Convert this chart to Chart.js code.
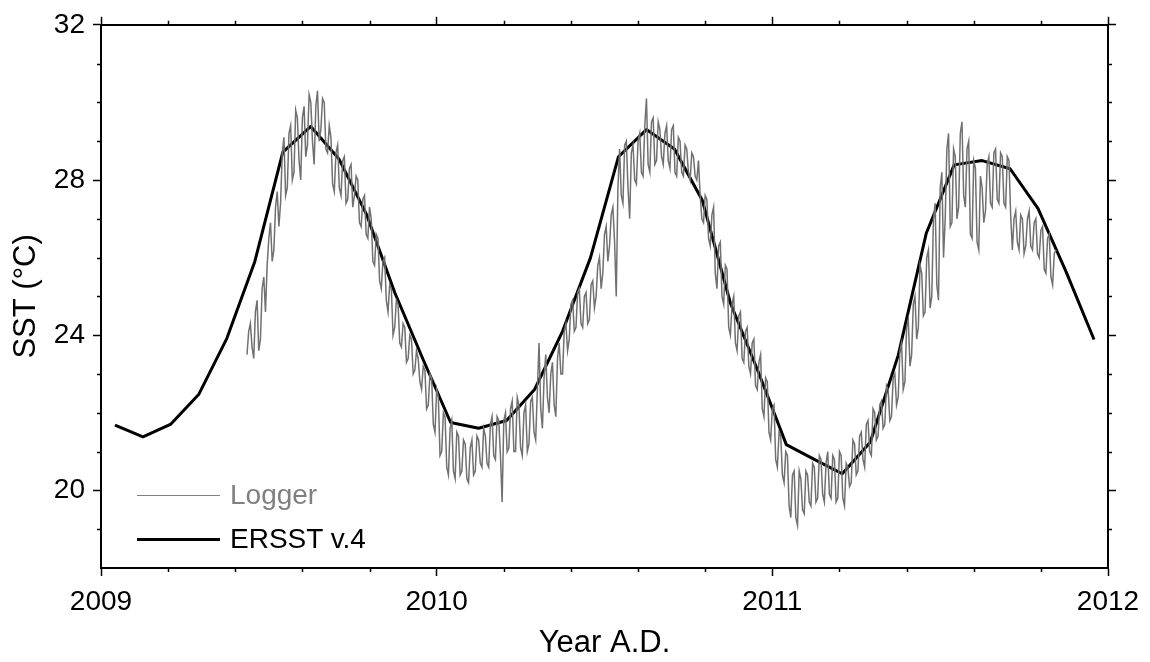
<!DOCTYPE html>
<html>
<head>
<meta charset="utf-8">
<script src="https://cdn.jsdelivr.net/npm/chart.js@4.4.0/dist/chart.umd.min.js"></script>
<style>
  html, body { margin: 0; padding: 0; background: #fff; }
  #wrap { position: relative; width: 1150px; height: 662px; }
  .lg-item { position: absolute; left: 137px; height: 28px; display: flex; align-items: center;
             font: 28px "Liberation Sans", Arial, sans-serif; line-height: 28px; white-space: nowrap; }
  .lg-line { width: 83px; margin-right: 10px; }
</style>
</head>
<body>
<div id="wrap">
  <canvas id="sst" width="1150" height="662"></canvas>
  <div class="lg-item" style="top:481px;color:#808080"><div class="lg-line" style="border-top:1.5px solid #808080"></div>Logger</div>
  <div class="lg-item" style="top:525px;color:#000"><div class="lg-line" style="border-top:3px solid #000"></div>ERSST v.4</div>
</div>
<script>
// ── Data ──────────────────────────────────────────────────────────────────────
// ERSST v.4 monthly means, Jan 2009 .. Dec 2011 (plotted at mid-month)
const ersstStart = 2009 + 0.5 / 12;
const ersstStep  = 1 / 12;
const ersstSST = [
  21.68, 21.38, 21.71, 22.48, 23.92, 25.9, 28.72, 29.38, 28.55, 27.1, 25.1, 23.4,
  21.75, 21.6, 21.8, 22.6, 24.1, 26.0, 28.6, 29.3, 28.8, 27.47, 24.83, 23.05,
  21.18, 20.8, 20.43, 21.24, 23.48, 26.62, 28.39, 28.5, 28.29, 27.26, 25.64, 23.89,
];

// Logger record, every 0.005 yr
const loggerStart = 2009.435;
const loggerStep  = 0.005;
const loggerSST = [
  23.5,24.1,24.3,23.7,23.4,24.6,24.9,23.6,23.9,25.2,25.5,24.6,25.8,26.5,26.9,25.9,26.2,27.3,27.7,26.8,
  27.4,28.7,29.1,27.6,27.8,29.2,29.4,28.0,28.2,29.8,29.6,28.5,28.0,29.6,29.9,28.6,28.9,30.2,30.0,29.0,
  28.4,29.9,30.3,29.0,29.3,30.1,30.0,28.8,28.7,29.4,29.1,27.9,27.7,28.7,28.9,27.8,27.6,28.5,28.6,27.4,
  27.5,28.3,28.4,27.3,27.6,28.1,28.0,26.9,26.8,27.5,27.6,26.6,26.5,27.3,27.0,25.9,25.8,26.6,26.5,25.4,
  25.2,25.9,26.0,24.9,24.6,25.3,25.2,24.0,24.2,24.9,24.8,23.8,23.7,24.3,24.2,23.3,23.4,24.0,23.9,23.0,
  23.1,23.6,23.4,22.8,22.6,23.2,23.1,22.1,22.2,23.0,22.9,21.7,21.5,22.6,22.4,20.9,21.0,22.0,21.9,20.6,
  20.4,21.6,21.8,20.5,20.3,21.5,21.4,20.4,20.5,21.3,21.2,20.3,20.2,21.1,21.3,20.4,20.5,21.4,21.3,20.7,
  20.6,21.6,21.4,20.7,20.6,21.7,21.9,20.9,20.8,21.9,21.8,20.9,19.7,21.8,22.0,21.0,21.1,22.1,22.3,21.0,
  21.0,22.4,22.2,21.1,20.9,22.0,22.2,21.0,21.2,22.3,22.4,21.5,21.3,22.6,23.8,22.1,21.6,22.9,23.5,22.4,
  22.0,23.0,23.3,22.2,21.9,23.4,23.8,23.0,23.0,24.1,24.3,23.6,23.9,24.8,24.9,24.1,24.2,25.1,25.2,24.3,
  24.2,25.0,25.1,24.3,24.4,25.3,25.4,24.7,25.0,25.8,26.0,25.2,25.6,26.6,26.8,25.9,26.3,27.1,27.3,26.4,
  25.0,27.8,28.8,27.6,27.4,28.9,29.0,27.8,27.0,28.7,28.9,28.0,27.9,29.0,29.2,28.2,28.1,29.4,30.1,28.4,
  28.2,29.5,29.6,28.4,28.5,29.5,29.3,28.6,28.4,29.2,29.4,28.5,28.3,29.3,29.4,28.2,28.1,29.1,29.0,28.2,
  28.1,28.9,28.8,28.2,28.0,28.7,28.6,28.1,28.0,28.5,27.6,27.0,26.9,27.6,27.5,26.5,26.3,27.1,27.3,25.6,
  25.2,26.3,26.4,25.0,24.8,25.8,25.7,24.2,24.0,24.8,25.0,23.8,23.6,24.5,24.6,23.4,23.3,24.1,24.2,23.2,
  23.0,23.8,23.9,22.7,22.6,23.3,23.5,22.1,21.9,22.9,22.8,21.5,21.3,22.1,22.2,20.8,20.6,21.5,21.4,20.4,
  20.2,21.0,20.9,19.6,19.3,20.4,20.5,19.3,19.1,20.5,20.3,19.5,19.4,20.5,20.4,19.7,19.6,20.7,20.6,19.7,
  19.8,20.9,20.8,19.9,19.7,20.7,21.0,19.9,19.8,20.9,20.8,19.7,19.8,21.0,20.9,19.8,19.6,20.7,20.6,20.1,
  20.2,21.3,21.2,20.4,20.5,21.4,21.5,20.8,20.6,21.7,21.8,21.0,20.9,22.1,22.0,21.3,21.4,22.2,22.3,21.6,
  21.7,22.7,22.6,21.8,21.9,22.9,23.0,22.2,22.4,23.6,23.8,22.6,22.8,24.2,24.4,23.2,23.5,24.8,25.0,23.9,
  24.2,25.8,25.6,24.5,24.6,26.0,26.2,24.7,25.0,27.0,27.4,25.3,24.9,27.8,28.2,26.0,27.0,28.8,29.2,26.8,
  26.9,28.8,28.6,27.0,27.3,29.2,29.5,27.6,27.3,28.8,29.0,26.6,26.5,28.5,28.3,26.4,26.2,28.1,27.8,26.9,
  27.2,28.4,28.6,27.4,27.3,28.7,28.8,27.5,27.4,28.7,28.6,27.4,27.3,28.6,28.5,27.1,26.2,27.0,27.2,26.4,
  26.2,27.1,27.0,26.1,26.3,27.0,27.2,26.3,26.2,26.9,27.0,26.1,26.0,26.7,26.8,25.7,25.6,26.5,26.6,25.5,
  25.3,26.1,26.2,
];

// Axis ticks
const xMin = 2009, xMax = 2012, xMajorStep = 1;
const yMin = 18,   yMax = 32,   yMajorStep = 4;
const xMinorTicks = [2009.2, 2009.4, 2009.6, 2009.8, 2010.2, 2010.4, 2010.6, 2010.8, 2011.2, 2011.4, 2011.6, 2011.8];
const yMinorTicks = [19, 21, 22, 23, 25, 26, 27, 29, 30, 31];

// ── Helpers ───────────────────────────────────────────────────────────────────
const FONT = '"Liberation Sans", Arial, sans-serif';
const toXY = (start, step, vals) => vals.map((v, i) => ({ x: start + i * step, y: v }));

const frame = { display: true, color: "#000", width: 2 };
const tickGrid = { drawOnChartArea: false, drawTicks: true, tickLength: 8, tickWidth: 1.5, tickColor: "#000" };

// Short minor ticks on all four sides
const minorTicks = {
  id: "minorTicks",
  afterDraw(chart) {
    const { ctx, chartArea: a, scales: { x, y } } = chart;
    ctx.save();
    ctx.strokeStyle = "#000";
    ctx.lineWidth = 1.5;
    ctx.beginPath();
    xMinorTicks.forEach(v => {
      const px = Math.round(x.getPixelForValue(v)) + 0.5;
      ctx.moveTo(px, a.bottom); ctx.lineTo(px, a.bottom + 4);
      ctx.moveTo(px, a.top);    ctx.lineTo(px, a.top - 4);
    });
    yMinorTicks.forEach(v => {
      const py = Math.round(y.getPixelForValue(v)) + 0.5;
      ctx.moveTo(a.left, py);  ctx.lineTo(a.left - 4, py);
      ctx.moveTo(a.right, py); ctx.lineTo(a.right + 4, py);
    });
    ctx.stroke();
    ctx.restore();
  },
};

// ── Chart ─────────────────────────────────────────────────────────────────────
new Chart(document.getElementById("sst").getContext("2d"), {
  type: "line",
  data: {
    datasets: [
      { label: "Logger",    data: toXY(loggerStart, loggerStep, loggerSST), borderColor: "#707070", borderWidth: 1.5, pointRadius: 0, tension: 0, fill: false },
      { label: "ERSST v.4", data: toXY(ersstStart, ersstStep, ersstSST),    borderColor: "#000",    borderWidth: 3,   pointRadius: 0, tension: 0, fill: false, borderJoinStyle: "round" },
    ],
  },
  options: {
    responsive: false,
    animation: false,
    events: [],
    layout: { padding: 0 },
    plugins: { legend: { display: false }, tooltip: { enabled: false } },
    scales: {
      x: {
        type: "linear", position: "bottom", min: xMin, max: xMax,
        border: frame, grid: tickGrid,
        ticks: { stepSize: xMajorStep, padding: 9, maxRotation: 0, color: "#000", font: { family: FONT, size: 28 }, callback: v => String(v) },
        title: { display: true, text: "Year A.D.", color: "#000", font: { family: FONT, size: 31 }, padding: { top: 0, bottom: 0 } },
        afterFit: s => { s.height = 94; },
      },
      x2: {
        type: "linear", position: "top", min: xMin, max: xMax,
        border: frame, grid: tickGrid,
        ticks: { stepSize: xMajorStep, display: false },
        afterFit: s => { s.height = 22; },
      },
      y: {
        type: "linear", position: "left", min: yMin, max: yMax,
        border: frame, grid: tickGrid,
        ticks: { stepSize: yMajorStep, includeBounds: false, padding: 8, color: "#000", font: { family: FONT, size: 28 }, callback: v => String(v) },
        title: { display: true, text: "SST (°C)", color: "#000", font: { family: FONT, size: 31 }, padding: { top: 8, bottom: 0 } },
        afterFit: s => { s.width = 101; },
      },
      y2: {
        type: "linear", position: "right", min: yMin, max: yMax,
        border: frame, grid: tickGrid,
        ticks: { stepSize: yMajorStep, includeBounds: false, display: false },
        afterFit: s => { s.width = 42; },
      },
    },
  },
  plugins: [minorTicks],
});
</script>
</body>
</html>
